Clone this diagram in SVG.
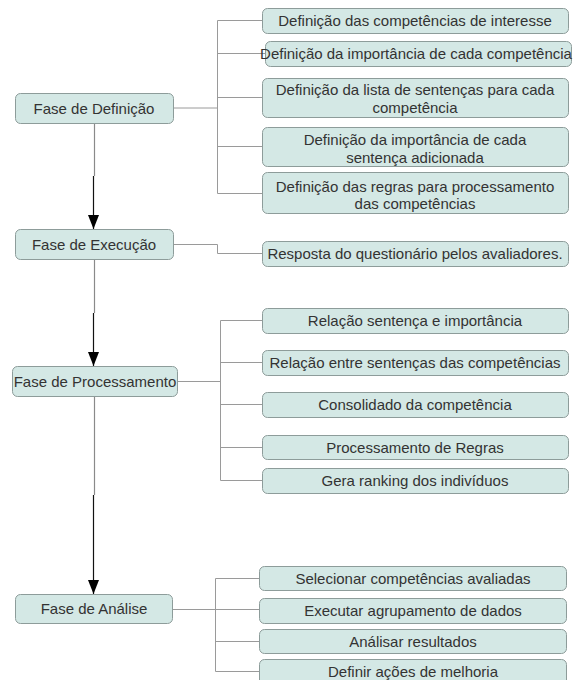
<svg xmlns="http://www.w3.org/2000/svg" width="574" height="680" viewBox="0 0 574 680">
<style>
.box{fill:#d4e8e5;stroke:#8d9c9a;stroke-width:1}
.t{font-family:"Liberation Sans",Arial,sans-serif;font-size:15px;fill:#333;text-anchor:middle}
.c{fill:none;stroke:#9a9a9a;stroke-width:1}
.a1{fill:none;stroke:#8a8a8a;stroke-width:1.2}
.a2{fill:none;stroke:#111;stroke-width:1.2}
</style>
<defs>
<marker id="ah" markerUnits="userSpaceOnUse" markerWidth="15" markerHeight="11" viewBox="0 0 15 11" refX="14" refY="5.5" orient="auto">
<path d="M0,0 L14,5.5 L0,11 z" fill="#000"/>
</marker>
</defs>
<rect width="574" height="680" fill="#fff"/>
<g id="connectors">
<path class="a1" d="M94.5 123 V176"/>
<path class="a2" d="M93.5 176 V229" marker-end="url(#ah)"/>
<path class="a1" d="M94.5 259 V313"/>
<path class="a2" d="M93.5 313 V366" marker-end="url(#ah)"/>
<path class="a1" d="M94.5 396 V495"/>
<path class="a2" d="M93.5 495 V594" marker-end="url(#ah)"/>
<path class="c" d="M173 108 H217.5 M217.5 20.5 V193.5 M217.5 20.5 H262 M217.5 53.5 H265 M217.5 97.5 H262 M217.5 146.5 H262 M217.5 193.5 H262"/>
<path class="c" d="M173 244.5 H217.5 V253.5 H262"/>
<path class="c" d="M177 381.5 H220.5 M220.5 320.5 V480.5 M220.5 320.5 H262 M220.5 362.5 H262 M220.5 404.5 H262 M220.5 447.5 H262 M220.5 480.5 H262"/>
<path class="c" d="M172 609.5 H215.5 M215.5 578.5 V671.5 M215.5 578.5 H259 M215.5 609.5 H259 M215.5 641.5 H259 M215.5 671.5 H259"/>
</g>
<g id="fase-definicao"><rect class="box" x="15.5" y="93.5" width="158" height="30" rx="5"/><text class="t" x="94" y="113.5">Fase de Definição</text></g>
<g id="fase-execucao"><rect class="box" x="15.5" y="229.5" width="158" height="30" rx="5"/><text class="t" x="94" y="249.5">Fase de Execução</text></g>
<g id="fase-processamento"><rect class="box" x="12.5" y="366.5" width="165" height="30" rx="5"/><text class="t" x="95" y="386.5">Fase de Processamento</text></g>
<g id="fase-analise"><rect class="box" x="15.5" y="594.5" width="157" height="29" rx="5"/><text class="t" x="94" y="614">Fase de Análise</text></g>

<g id="d1"><rect class="box" x="262.5" y="8.5" width="306" height="25" rx="5"/><text class="t" x="415" y="26">Definição das competências de interesse</text></g>
<g id="d2"><rect class="box" x="265.5" y="41.5" width="306" height="25" rx="5"/><text class="t" x="416" y="59">Definição da importância de cada competência</text></g>
<g id="d3"><rect class="box" x="262.5" y="78.5" width="306" height="39" rx="5"/><text class="t" x="415" y="95">Definição da lista de sentenças para cada</text><text class="t" x="415" y="113">competência</text></g>
<g id="d4"><rect class="box" x="262.5" y="127.5" width="306" height="39" rx="5"/><text class="t" x="415" y="145">Definição da importância de cada</text><text class="t" x="415" y="163">sentença adicionada</text></g>
<g id="d5"><rect class="box" x="262.5" y="172.5" width="306" height="41" rx="5"/><text class="t" x="415" y="192">Definição das regras para processamento</text><text class="t" x="415" y="209">das competências</text></g>

<g id="e1"><rect class="box" x="262.5" y="241.5" width="306" height="25" rx="5"/><text class="t" x="415" y="259">Resposta do questionário pelos avaliadores.</text></g>

<g id="p1"><rect class="box" x="262.5" y="308.5" width="306" height="25" rx="5"/><text class="t" x="415" y="326">Relação sentença e importância</text></g>
<g id="p2"><rect class="box" x="262.5" y="350.5" width="306" height="25" rx="5"/><text class="t" x="415" y="368">Relação entre sentenças das competências</text></g>
<g id="p3"><rect class="box" x="262.5" y="392.5" width="306" height="25" rx="5"/><text class="t" x="415" y="410">Consolidado da competência</text></g>
<g id="p4"><rect class="box" x="262.5" y="435.5" width="306" height="24" rx="5"/><text class="t" x="415" y="453">Processamento de Regras</text></g>
<g id="p5"><rect class="box" x="262.5" y="468.5" width="306" height="25" rx="5"/><text class="t" x="415" y="486">Gera ranking dos indivíduos</text></g>

<g id="a1"><rect class="box" x="259.5" y="566.5" width="307" height="24" rx="5"/><text class="t" x="413" y="584">Selecionar competências avaliadas</text></g>
<g id="a2"><rect class="box" x="259.5" y="598.5" width="307" height="25" rx="5"/><text class="t" x="413" y="616">Executar agrupamento de dados</text></g>
<g id="a3"><rect class="box" x="259.5" y="629.5" width="307" height="24" rx="5"/><text class="t" x="413" y="647">Análisar resultados</text></g>
<g id="a4"><rect class="box" x="259.5" y="659.5" width="307" height="26" rx="5"/><text class="t" x="413" y="677">Definir ações de melhoria</text></g>
</svg>
